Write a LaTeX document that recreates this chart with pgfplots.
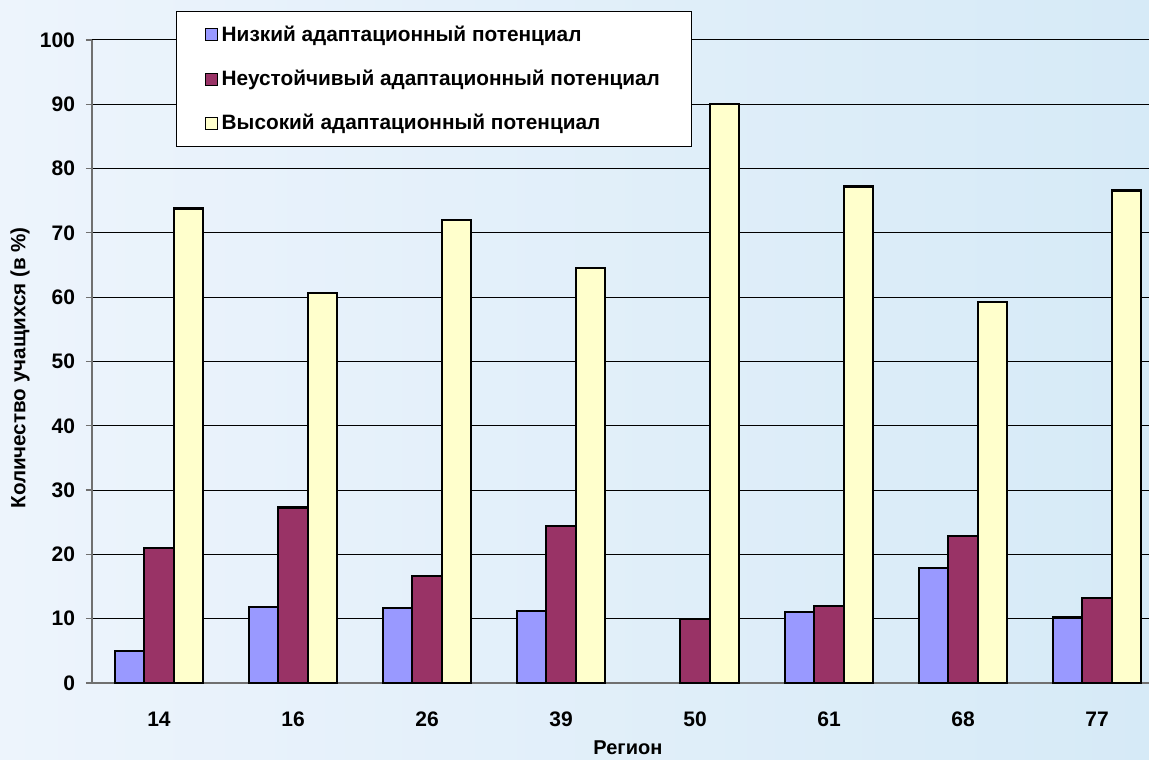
\documentclass[border=0pt]{standalone}
\usepackage{fontspec}
\setmainfont{Liberation Sans}
\usepackage{pgfplots}
\pgfplotsset{compat=1.18}
\definecolor{cLow}{HTML}{9999FF}
\definecolor{cMid}{HTML}{993366}
\definecolor{cHigh}{HTML}{FFFFCC}
\definecolor{bgL}{HTML}{EDF4FC}
\definecolor{bgR}{HTML}{D6EAF7}
\definecolor{axgray}{HTML}{707070}
\pgfplotsset{myleg/.style={legend image code/.code={\draw[##1,line width=0.6pt] (0pt,-3pt) rectangle (6pt,3pt);}}}
\begin{document}
\begin{tikzpicture}
\shade[left color=bgL, right color=bgR] (0pt,0pt) rectangle (574.5pt,379.5pt);
\path[use as bounding box] (0pt,0pt) rectangle (574.5pt,379.5pt);
\begin{axis}[
  at={(46pt,38pt)}, anchor=south west,
  scale only axis, width=528.5pt, height=321.5pt,
  xmin=-0.5, xmax=7.388, ymin=0, ymax=100,
  ybar=0pt, bar width=14.75pt,
  axis x line*=bottom, axis y line*=left,
  axis line style={axgray, line width=0.8pt},
  ytick={0,10,...,100},
  ymajorgrids, major grid style={black, line width=0.5pt},
  tick align=outside, major tick length=3pt, minor tick length=3pt,
  ytick style={axgray, line width=0.6pt},
  xtick={0,...,7}, xticklabels={14,16,26,39,50,61,68,77},
  xtick style={draw=none},
  minor xtick={-0.5,0.5,1.5,2.5,3.5,4.5,5.5,6.5},
  minor x tick style={axgray, line width=0.6pt},
  /pgf/number format/assume math mode=true,
  ticklabel style={font=\fontsize{10.5}{12}\selectfont\bfseries},
  xticklabel style={yshift=-8pt},
  yticklabel style={xshift=-2pt},
  ylabel={Количество учащихся (в \%)},
  ylabel style={at={(axis description cs:-0.068,0.49)}, anchor=center, font=\fontsize{10.3}{12}\selectfont\bfseries},
  xlabel={Регион},
  xlabel style={at={(axis description cs:0.507,-0.1)}, anchor=center, font=\fontsize{10}{12}\selectfont\bfseries},
  legend style={at={(0.0795,1.045)}, anchor=north west, draw=black, line width=0.5pt, fill=white,
    font=\fontsize{10.4}{12}\selectfont\bfseries, inner xsep=14pt, inner ysep=5pt, row sep=9pt},
  legend cell align=left,
]
\addplot[fill=cLow, draw=black, line width=1.1pt, myleg] coordinates {(0,5) (1,11.8) (2,11.65) (3,11.2) (5,11.1) (6,17.9) (7,10.2)};
\addplot[fill=cMid, draw=black, line width=1.1pt, myleg] coordinates {(0,21) (1,27.3) (2,16.7) (3,24.4) (4,9.9) (5,11.95) (6,22.9) (7,13.2)};
\addplot[fill=cHigh, draw=black, line width=1.1pt, myleg] coordinates {(0,73.8) (1,60.7) (2,72.05) (3,64.6) (4,90.1) (5,77.2) (6,59.3) (7,76.6)};
\legend{Низкий адаптационный потенциал, Неустойчивый адаптационный потенциал, Высокий адаптационный потенциал}
\end{axis}
\end{tikzpicture}
\end{document}
